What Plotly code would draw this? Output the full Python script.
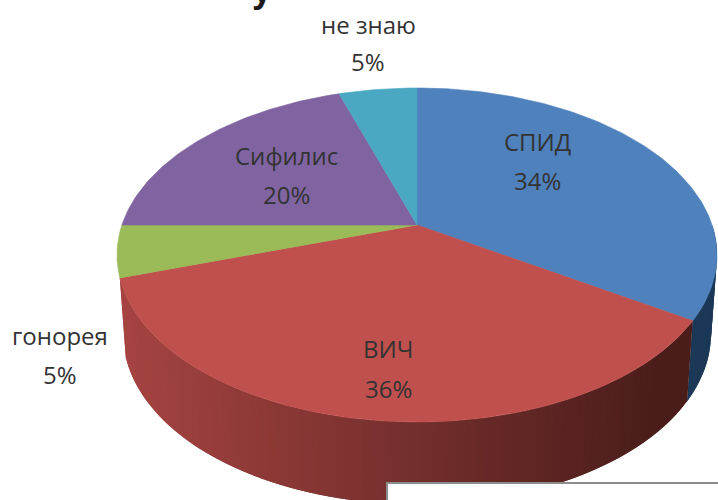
import math
import plotly.graph_objects as go

# --- data ---
categories = ["СПИД", "ВИЧ", "гонорея", "Сифилис", "не знаю"]
values = [34, 36, 5, 20, 5]

# --- styling / layout (separate from data) ---
top_colors = ["#4f81bd", "#c0504d", "#9bbb59", "#8064a2", "#4aa8c2"]
side_left = ["#1a3a5e", "#a64441"]
side_right = ["#1c3857", "#4a1d1b"]
label_x = [537, 388, 60, 286, 368]
label_y1 = [141, 348, 335, 155, 24]
label_y2 = [180, 388, 374, 194, 61]
W, H = 718, 500
CX, CY = 417, 255
RY = 167
APEX_OFFSET = 30
RX = 300
DEPTH = 79
BOTTOM_SCALE_X = 0.98
BOTTOM_SCALE_Y = 1.02
TEXT_COLOR = "#333333"
FONT = "Open Sans"
FONT_SIZE = 24

a = APEX_OFFSET / RY
e = RX * math.sqrt(1 - a * a)


def project(theta_deg, radius=1.0):
    """Clockwise angle from 12 o'clock -> position on tilted pie top."""
    t = math.radians(theta_deg)
    u, v = radius * math.sin(t), radius * math.cos(t)
    w = 1 + a * v
    return CX + e * u / w, CY - (RY * v + APEX_OFFSET) / w


def bottom(theta_deg):
    x, y = project(theta_deg)
    return CX + (x - CX) * BOTTOM_SCALE_X, CY + (y - CY) * BOTTOM_SCALE_Y + DEPTH


def mix(c1, c2, f):
    p = [int(c1[i:i + 2], 16) for i in (1, 3, 5)]
    q = [int(c2[i:i + 2], 16) for i in (1, 3, 5)]
    return "#%02x%02x%02x" % tuple(round(p[i] + (q[i] - p[i]) * f) for i in range(3))


fig = go.Figure()
total = sum(values)
angles = [0]
for val in values:
    angles.append(angles[-1] + 360 * val / total)


def poly(xs, ys, color, name, lw=0.6):
    fig.add_trace(go.Scatter(
        x=xs, y=ys, mode="lines", fill="toself", fillcolor=color,
        line=dict(color=color, width=lw), hoverinfo="skip", name=name, showlegend=False))


# side wall: strips overlap their neighbour so no seams show
for i in (0, 1):
    lo, hi = max(angles[i], 90), min(angles[i + 1], 270)
    if hi <= lo:
        continue
    n = max(2, int((hi - lo) / 1.5))
    step = (hi - lo) / n
    for k in range(n):
        t0 = lo + step * k
        t1 = min(hi, t0 + 2 * step)
        ts = [t0 + (t1 - t0) * j / 4 for j in range(5)]
        top = [project(t) for t in ts]
        bot = [bottom(t) for t in reversed(ts)]
        xmid = project(t0 + step / 2)[0]
        f = min(1, max(0, (CX + RX - 60 - xmid) / (2 * RX - 60)))
        color = mix(side_right[i], side_left[i], f)
        poly([p[0] for p in top + bot], [p[1] for p in top + bot], color, categories[i], lw=0)

# top surface
for i, cat in enumerate(categories):
    lo, hi = angles[i], angles[i + 1]
    n = max(4, int(hi - lo))
    pts = [project(lo + (hi - lo) * j / n) for j in range(n + 1)]
    apex = project(0, 0.0)
    xs = [apex[0]] + [p[0] for p in pts] + [apex[0]]
    ys = [apex[1]] + [p[1] for p in pts] + [apex[1]]
    poly(xs, ys, top_colors[i], cat)

annotations = []
for i, cat in enumerate(categories):
    for text, yy in ((cat, label_y1[i]), (f"{values[i]}%", label_y2[i])):
        annotations.append(dict(
            x=label_x[i], y=yy, xref="x", yref="y", text=text, showarrow=False,
            font=dict(family=FONT, size=FONT_SIZE, color=TEXT_COLOR),
            xanchor="center", yanchor="middle"))

# fragment of cropped heading, cut by the top of the picture
annotations.append(dict(
    x=262 / W, y=1, xref="paper", yref="paper", text="<b>у</b>", showarrow=False,
    font=dict(family="Liberation Sans", size=36, color="#1a1a1a"),
    xanchor="center", yanchor="bottom", yshift=-12))

shapes = [dict(type="rect", xref="x", yref="y", x0=387, x1=W + 10, y0=483, y1=H + 10,
               fillcolor="#ffffff", line=dict(color="#8c8c8c", width=2), layer="above")]

fig.update_layout(
    width=W, height=H, margin=dict(l=0, r=0, t=0, b=0),
    paper_bgcolor="#ffffff", plot_bgcolor="#ffffff", showlegend=False,
    xaxis=dict(range=[0, W], visible=False, fixedrange=True),
    yaxis=dict(range=[H, 0], visible=False, fixedrange=True),
    annotations=annotations, shapes=shapes)

fig.write_html("out.html", config=dict(displayModeBar=False),
               post_script="document.body.style.margin='0';document.documentElement.style.overflow='hidden';")
